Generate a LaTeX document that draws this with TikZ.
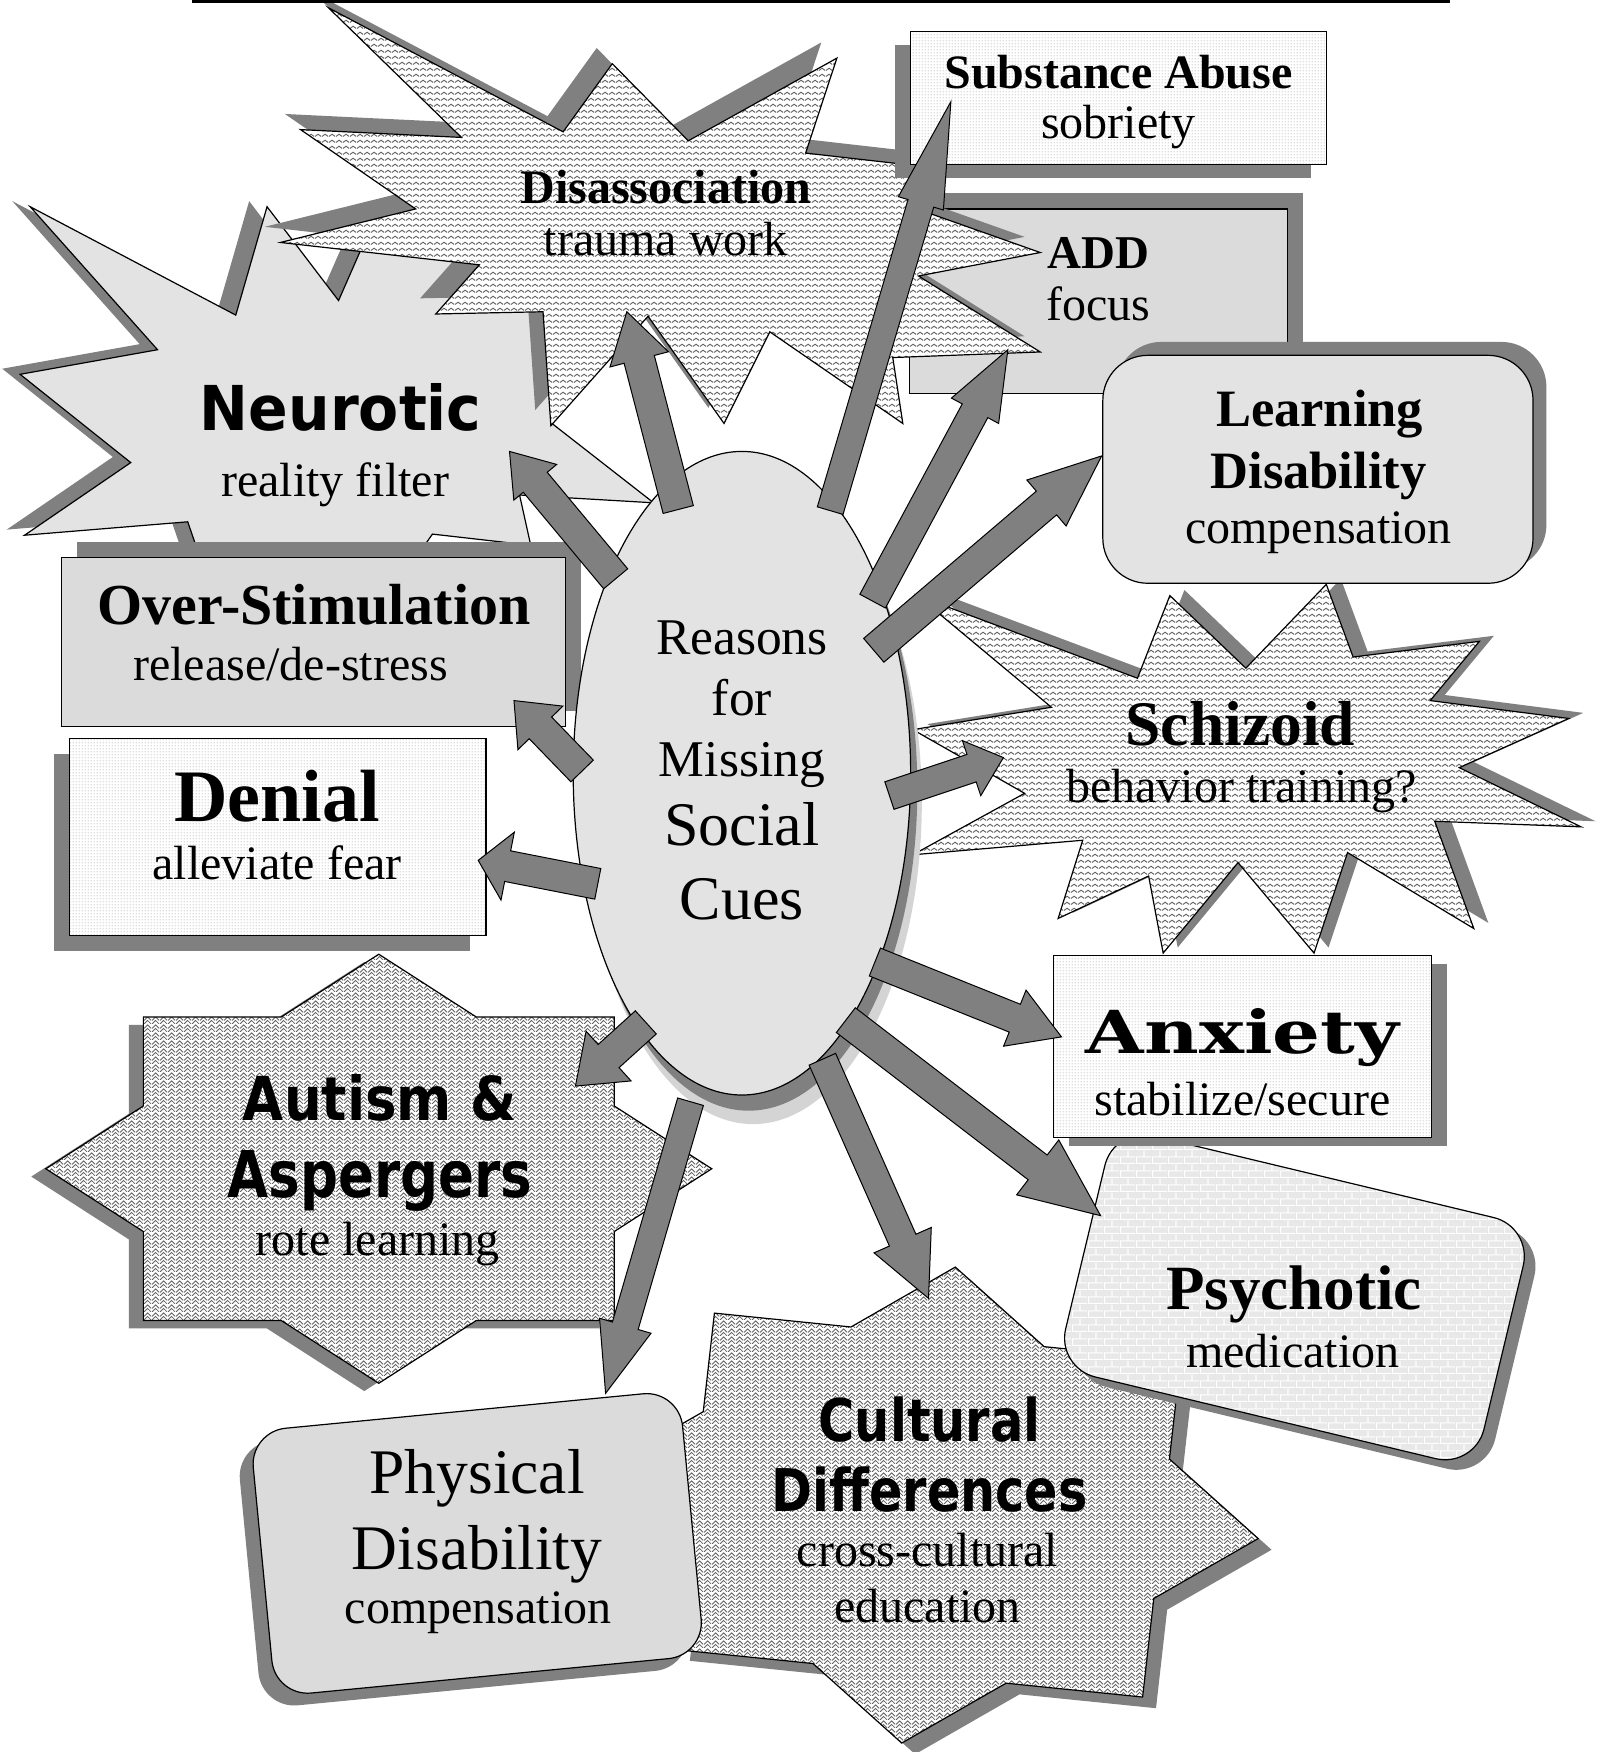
\documentclass[tikz,border=0pt]{standalone}
\usepackage{fontspec}
\setmainfont{Liberation Serif}
\newfontfamily\heavyf{DejaVu Sans}
\newfontfamily\decof{DejaVu Serif}
\usepackage{graphicx}
\usetikzlibrary{calc,shapes.geometric,patterns}

\pgfdeclarepatternformonly{zigz}{\pgfqpoint{0pt}{0pt}}{\pgfqpoint{7pt}{6pt}}{\pgfqpoint{7pt}{6pt}}{%
  \pgfsetlinewidth{1.05pt}
  \pgfpathmoveto{\pgfqpoint{0pt}{1.8pt}}
  \pgfpathlineto{\pgfqpoint{3.5pt}{4.4pt}}
  \pgfpathlineto{\pgfqpoint{7pt}{1.8pt}}
  \pgfusepath{stroke}}
\pgfdeclarepatternformonly{weave}{\pgfqpoint{0pt}{0pt}}{\pgfqpoint{8pt}{8pt}}{\pgfqpoint{8pt}{8pt}}{%
  \pgfsetlinewidth{0.9pt}
  \pgfpathmoveto{\pgfqpoint{0pt}{0pt}}\pgfpathlineto{\pgfqpoint{4pt}{4pt}}\pgfpathlineto{\pgfqpoint{8pt}{0pt}}
  \pgfpathmoveto{\pgfqpoint{0pt}{4pt}}\pgfpathlineto{\pgfqpoint{4pt}{8pt}}\pgfpathlineto{\pgfqpoint{8pt}{4pt}}
  \pgfusepath{stroke}}
\pgfdeclarepatternformonly{fdots}{\pgfqpoint{0pt}{0pt}}{\pgfqpoint{3pt}{3pt}}{\pgfqpoint{3pt}{3pt}}{%
  \pgfpathcircle{\pgfqpoint{1.5pt}{1.5pt}}{0.6pt}
  \pgfusepath{fill}}
\pgfdeclarepatternformonly{brk}{\pgfqpoint{0pt}{0pt}}{\pgfqpoint{16pt}{14pt}}{\pgfqpoint{16pt}{14pt}}{%
  \pgfsetlinewidth{1.3pt}
  \pgfpathmoveto{\pgfqpoint{0pt}{0.6pt}}\pgfpathlineto{\pgfqpoint{16pt}{0.6pt}}
  \pgfpathmoveto{\pgfqpoint{0pt}{7.6pt}}\pgfpathlineto{\pgfqpoint{16pt}{7.6pt}}
  \pgfpathmoveto{\pgfqpoint{0.6pt}{0pt}}\pgfpathlineto{\pgfqpoint{0.6pt}{7pt}}
  \pgfpathmoveto{\pgfqpoint{8.6pt}{7pt}}\pgfpathlineto{\pgfqpoint{8.6pt}{14pt}}
  \pgfusepath{stroke}}

\newcommand\fsz[1]{\fontsize{#1pt}{#1pt}\selectfont}

\tikzset{
  outl/.style={draw=black, line width=1.2pt, line join=miter},
  marbleA/.style={outl, fill=black!11},
  marbleB/.style={outl, fill=black!14},
  zzf/.style={outl, preaction={fill=white}, pattern=zigz, pattern color=black!62},
  dotf/.style={outl, preaction={fill=white}, pattern=fdots, pattern color=black!55},
  weavef/.style={outl, preaction={fill=white}, pattern=weave, pattern color=black!62},
  brickf/.style={outl, preaction={fill=black!9}, pattern=brk, pattern color=white},
  shd/.style={fill=gray},
  barrow/.style={fill=gray, draw=black, line width=1pt, line join=miter},
  lbl/.style={inner sep=0pt, anchor=base},
}

% shapes (coordinates in the 1434x1568 grid, y downwards)
\newcommand\shNeu[1]{\path[#1] (27,185) -- (211,282) -- (239,185) -- (303,269) -- (328,212) -- (362,224) -- (398,222) -- (420,260) -- (495,240) -- (494,379) -- (585,450) -- (465,443) -- (475,488) -- (387,478) -- (330,560) -- (260,500) -- (200,560) -- (168,467) -- (22,479) -- (117,414) -- (18,335) -- (141,313) -- cycle;}
\newcommand\shDis[1]{\path[#1] (294,7) -- (504,118) -- (548,57) -- (616,126) -- (749,52) -- (721,137) -- (835,150) -- (818,186) -- (931,226) -- (822,247) -- (931,315) -- (799,320) -- (808,379) -- (689,297) -- (648,379) -- (580,283) -- (493,381) -- (486,279) -- (390,281) -- (429,237) -- (251,217) -- (372,187) -- (269,116) -- (413,123) -- cycle;}
\newcommand\shSch[1]{\path[#1] (821,533) -- (1018,607) -- (1047,533) -- (1115,598) -- (1187,523) -- (1211,588) -- (1324,574) -- (1280,627) -- (1404,643) -- (1306,687) -- (1415,740) -- (1284,735) -- (1319,831) -- (1206,763) -- (1176,853) -- (1108,772) -- (1041,853) -- (1028,784) -- (947,822) -- (969,752) -- (817,765) -- (917,710) -- (817,653) -- (941,633) -- cycle;}
\newcommand\shCul[1]{\path[#1] (855,1134) -- (934.4,1205.2) -- (1056.6,1217.6) -- (1046.6,1305.8) -- (1126,1377) -- (1032.6,1430.6) -- (1022.6,1518.8) -- (900.4,1506.4) -- (807,1560) -- (727.6,1488.8) -- (605.4,1476.4) -- (615.4,1388.2) -- (536,1317) -- (629.4,1263.4) -- (639.4,1175.2) -- (761.6,1187.6) -- cycle;}
\newcommand\shAut[1]{\path[#1] (339,854) -- (426.3,910.2) -- (549.7,910.2) -- (549.7,989.8) -- (637,1046) -- (549.7,1102.2) -- (549.7,1181.8) -- (426.3,1181.8) -- (339,1238) -- (251.7,1181.8) -- (128.3,1181.8) -- (128.3,1102.2) -- (41,1046) -- (128.3,989.8) -- (128.3,910.2) -- (251.7,910.2) -- cycle;}
\newcommand\shPsy[1]{\path[#1, rounded corners=40pt] (1184.4,1053.1) -- (1371.6,1098) -- (1319.8,1313.8) -- (945.4,1224) -- (997.2,1008.2) -- cycle;}
\newcommand\shPhy[1]{\path[#1, rounded corners=36pt] (415.7,1262.8) -- (607.8,1244.3) -- (630.6,1481.3) -- (246.4,1518.3) -- (223.6,1281.3) -- cycle;}

% block arrow: start, tip, shaft half width, head half width, head length
\newcommand\barr[5]{%
  \filldraw[barrow] ($(#1)!#3!90:(#2)$) -- ($(#2)!#5!(#1)!#3!-90:(#1)$) -- ($(#2)!#5!(#1)!#4!-90:(#1)$) -- (#2) -- ($(#2)!#5!(#1)!#4!90:(#1)$) -- ($(#2)!#5!(#1)!#3!90:(#1)$) -- ($(#1)!#3!-90:(#2)$) -- cycle;}

\begin{document}
\begin{tikzpicture}[x=1.1172pt,y=-1.1172pt]
\useasboundingbox (0,0) rectangle (1434,1568);

% Neurotic
\shNeu{shd, shift={(-16,-5)}}
\shNeu{marbleA}
% ADD
\fill[gray] (828,173) rectangle (1166,338);
\path[marbleB] (814,187) rectangle (1152,352);
% Disassociation
\shDis{shd, shift={(-14,-14)}}
\shDis{zzf}
% Substance Abuse
\fill[gray] (801,40) rectangle (1173,159);
\path[dotf] (815,28) rectangle (1187,147);
% Schizoid
\shSch{shd, shift={(13,-5)}}
\shSch{zzf}
% Learning Disability
\fill[gray, rounded corners=45pt] (999,306) rectangle (1384,510);
\path[marbleA, rounded corners=45pt] (987,318) rectangle (1372,522);
% Over-Stimulation
\fill[gray] (69,485) rectangle (520,636);
\path[marbleB] (55,499) rectangle (506,650);
% Denial
\fill[gray] (48,675) rectangle (421,851);
\path[dotf] (62,661) rectangle (435,837);
% Cultural Differences
\shCul{shd, shift={(12,10)}}
\shCul{weavef}
% Psychotic
\shPsy{shd, shift={(10,9)}}
\shPsy{brickf}
% Anxiety
\fill[gray] (957,863) rectangle (1295,1026);
\path[dotf] (943,855) rectangle (1281,1018);
% Physical Disability
\shPhy{shd, shift={(-12,11)}}
\shPhy{marbleB}
% Autism
\shAut{shd, shift={(-13,7)}}
\shAut{weavef}

% central ellipse
\fill[black!17] (674,718) ellipse [x radius=168.7pt, y radius=321.8pt];
\fill[gray] (670,706) ellipse [x radius=168.7pt, y radius=321.8pt];
\node[ellipse, draw=black, line width=1.2pt, fill=black!11, minimum width=337.4pt, minimum height=643.5pt, inner sep=0pt] (ell) at (664,692) {};

% arrow end points
\coordinate (aDis0) at (607,456);  \coordinate (aDis1) at (561,279);
\coordinate (aNeu0) at (551,518);  \coordinate (aNeu1) at (456,404);
\coordinate (aSub0) at (743,457);  \coordinate (aSub1) at (851,91);
\coordinate (aAdd0) at (781,538);  \coordinate (aAdd1) at (902,313);
\coordinate (aLd0)  at (782,582);  \coordinate (aLd1)  at (986,408);
\coordinate (aOv0)  at (521,690);  \coordinate (aOv1)  at (460,627);
\coordinate (aDen0) at (535,791);  \coordinate (aDen1) at (428,770);
\coordinate (aSch0) at (796,712);  \coordinate (aSch1) at (898,678);
\coordinate (aAnx0) at (783,861);  \coordinate (aAnx1) at (950,928);
\coordinate (aPsy0) at (757,913);  \coordinate (aPsy1) at (985,1088);
\coordinate (aCul0) at (736,948);  \coordinate (aCul1) at (831,1162);
\coordinate (aPhy0) at (618,986);  \coordinate (aPhy1) at (542,1247);
\coordinate (aAut0) at (578,915);  \coordinate (aAut1) at (515,972);

\barr{aDis0}{aDis1}{15.6pt}{30.2pt}{49.2pt}
\barr{aNeu0}{aNeu1}{15.6pt}{27.9pt}{40.2pt}
\barr{aSub0}{aSub1}{13.4pt}{23.5pt}{106pt}
\barr{aAdd0}{aAdd1}{14.5pt}{26.8pt}{69.3pt}
\barr{aLd0}{aLd1}{15.6pt}{30.2pt}{72.6pt}
\barr{aOv0}{aOv1}{15.6pt}{31.3pt}{38pt}
\barr{aDen0}{aDen1}{15.6pt}{34.6pt}{30pt}
\barr{aSch0}{aSch1}{14.5pt}{29pt}{33.5pt}
\barr{aAnx0}{aAnx1}{15pt}{30.2pt}{50.3pt}
\barr{aPsy0}{aPsy1}{15.6pt}{34.6pt}{79.3pt}
\barr{aCul0}{aCul1}{14.5pt}{31.3pt}{63.7pt}
\barr{aPhy0}{aPhy1}{13.4pt}{26.8pt}{70.4pt}
\barr{aAut0}{aAut1}{15.6pt}{33.5pt}{44.7pt}

% top rule
\coordinate (topL) at (172,1.5); \coordinate (topR) at (1298,1.5);
\draw[line width=2.8pt] (topL) -- (topR);

% labels
\node[lbl, font=\fsz{48}\bfseries] (tSub1) at (1001,79) {Substance Abuse};
\node[lbl, font=\fsz{48}] (tSub2) at (1001,124) {sobriety};
\node[lbl, font=\fsz{48}\bfseries] (tDis1) at (596,182) {Disassociation};
\node[lbl, font=\fsz{48}] (tDis2) at (596,229) {trauma work};
\node[lbl, font=\fsz{47}\bfseries] (tAdd1) at (983,240) {ADD};
\node[lbl, font=\fsz{48}] (tAdd2) at (983,287) {focus};
\node[lbl] (tNeu1) at (305,385) {\resizebox{281.5pt}{47pt}{\heavyf\bfseries Neurotic}};
\node[lbl, font=\fsz{48}] (tNeu2) at (300,444) {reality filter};
\node[lbl, font=\fsz{52.5}\bfseries] (tLd1) at (1181,382) {Learning};
\node[lbl, font=\fsz{52.5}\bfseries] (tLd2) at (1180,437) {Disability};
\node[lbl, font=\fsz{48}] (tLd3) at (1180,486) {compensation};
\node[lbl, font=\fsz{58}\bfseries] (tOv1) at (281,559) {Over-Stimulation};
\node[lbl, font=\fsz{48}] (tOv2) at (260,609) {release/de-stress};
\node[lbl, font=\fsz{51.5}] (tR1) at (664,586) {Reasons};
\node[lbl, font=\fsz{51.5}] (tR2) at (664,640) {for};
\node[lbl, font=\fsz{51.5}] (tR3) at (664,695) {Missing};
\node[lbl, font=\fsz{62}] (tR4) at (664,757) {Social};
\node[lbl, font=\fsz{62}] (tR5) at (664,823) {Cues};
\node[lbl, font=\fsz{63.5}\bfseries] (tSch1) at (1110,667) {Schizoid};
\node[lbl, font=\fsz{48}] (tSch2) at (1111,718) {behavior training?};
\node[lbl, font=\fsz{74}\bfseries] (tDen1) at (248,735) {Denial};
\node[lbl, font=\fsz{48}] (tDen2) at (248,787) {alleviate fear};
\node[lbl] (tAnx1) at (1112,943) {\resizebox{313pt}{45pt}{\decof\bfseries Anxiety}};
\node[lbl, font=\fsz{48}] (tAnx2) at (1112,998) {stabilize/secure};
\node[lbl] (tAut1) at (340,1003) {\resizebox{273.7pt}{46pt}{\heavyf\bfseries Autism \&}};
\node[lbl] (tAut2) at (340,1072) {\resizebox{305pt}{47pt}{\heavyf\bfseries Aspergers}};
\node[lbl, font=\fsz{48}] (tAut3) at (338,1124) {rote learning};
\node[lbl, font=\fsz{63}\bfseries] (tPsy1) at (1158,1172) {Psychotic};
\node[lbl, font=\fsz{48}] (tPsy2) at (1157,1224) {medication};
\node[lbl] (tCul1) at (832,1290) {\resizebox{222pt}{44.7pt}{\heavyf\bfseries Cultural}};
\node[lbl] (tCul2) at (832,1353) {\resizebox{316pt}{44.7pt}{\heavyf\bfseries Differences}};
\node[lbl, font=\fsz{48}] (tCul3) at (830,1402) {cross-cultural};
\node[lbl, font=\fsz{48}] (tCul4) at (830,1452) {education};
\node[lbl, font=\fsz{63.5}] (tPhy1) at (427,1337) {Physical};
\node[lbl, font=\fsz{63.5}] (tPhy2) at (427,1405) {Disability};
\node[lbl, font=\fsz{48}] (tPhy3) at (428,1453) {compensation};
\end{tikzpicture}
\end{document}
